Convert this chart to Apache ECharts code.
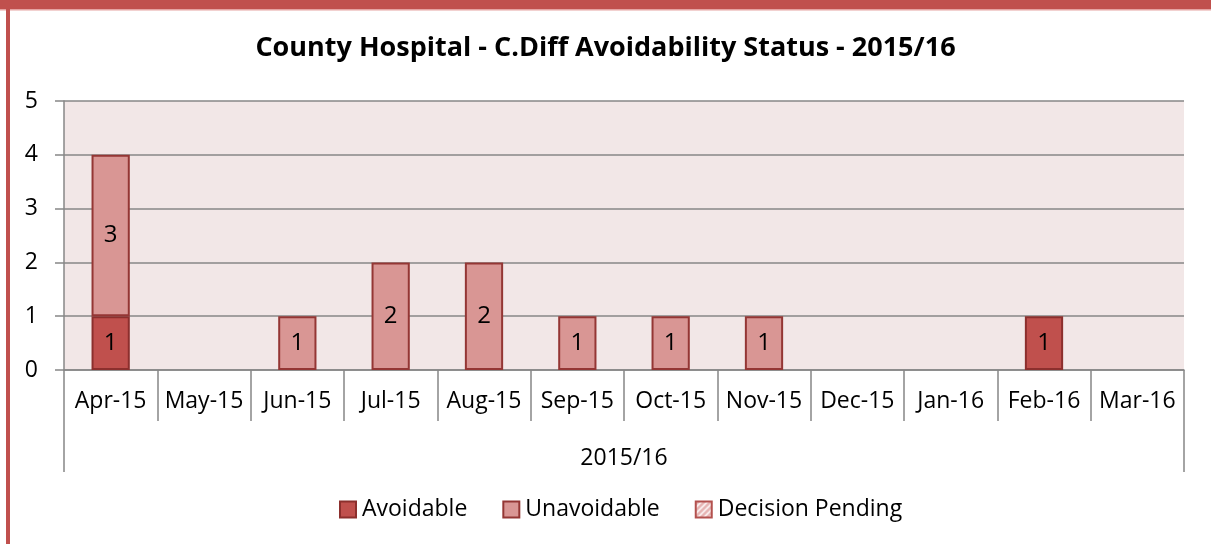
<!DOCTYPE html>
<html>
<head>
<meta charset="UTF-8">
<title>County Hospital - C.Diff Avoidability Status - 2015/16</title>
<script src="https://cdn.jsdelivr.net/npm/echarts@6/dist/echarts.min.js"></script>
<style>
  html, body { margin: 0; padding: 0; background: #fff; }
  #main { width: 1211px; height: 544px; }
</style>
</head>
<body>
<div id="main"></div>
<script type="text/javascript">
// chart data
var months = ['Apr-15', 'May-15', 'Jun-15', 'Jul-15', 'Aug-15', 'Sep-15', 'Oct-15', 'Nov-15', 'Dec-15', 'Jan-16', 'Feb-16', 'Mar-16'];
var yearGroup = ['2015/16'];
var avoidable = [1, 0, 0, 0, 0, 0, 0, 0, 0, 0, 1, 0];
var unavoidable = [3, 0, 1, 2, 2, 1, 1, 1, 0, 0, 0, 0];
var pending = [0, 0, 0, 0, 0, 0, 0, 0, 0, 0, 0, 0];

var FONT = '"Open Sans", "DejaVu Sans", sans-serif';

// hatched fill for "Decision Pending"
function hatch() {
    var c = document.createElement('canvas');
    c.width = 6; c.height = 6;
    var g = c.getContext('2d');
    g.fillStyle = '#E6B3B2';
    g.fillRect(0, 0, 6, 6);
    g.strokeStyle = '#ffffff';
    g.lineWidth = 1.5;
    g.beginPath();
    g.moveTo(0, 6); g.lineTo(6, 0);
    g.moveTo(-3, 3); g.lineTo(3, -3);
    g.moveTo(3, 9); g.lineTo(9, 3);
    g.stroke();
    return c;
}

// zero values are not drawn as bars
function nz(arr) { return arr.map(function (v) { return v === 0 ? null : v; }); }

var labelStyle = { show: true, position: 'inside', color: '#000', fontFamily: FONT, fontSize: 24 };

var myChart = echarts.init(document.getElementById('main'));
var option = {
    animation: false,
    backgroundColor: '#fff',
    title: {
        text: 'County Hospital - C.Diff Avoidability Status - 2015/16',
        left: 'center',
        top: 30,
        textStyle: { fontFamily: FONT, fontSize: 27, fontWeight: 'bold', color: '#000' }
    },
    legend: {
        bottom: 18,
        left: 334,
        icon: 'rect',
        itemWidth: 16,
        itemHeight: 16,
        itemGap: 35,
        textStyle: { fontFamily: FONT, fontSize: 23, color: '#000', padding: [0, 0, 0, 1] },
        data: ['Avoidable', 'Unavoidable', 'Decision Pending']
    },
    grid: {
        left: 64, right: 27, top: 101, bottom: 174,
        show: true, backgroundColor: '#F2E7E7', borderWidth: 0
    },
    xAxis: [
        {
            type: 'category',
            data: months,
            axisLine: { lineStyle: { color: '#878787', width: 1.5 } },
            axisTick: { show: true, interval: 0, alignWithLabel: false, length: 51, lineStyle: { color: '#878787', width: 1.5 } },
            axisLabel: { interval: 0, margin: 20, color: '#000', fontFamily: FONT, fontSize: 23 }
        },
        {
            type: 'category',
            data: yearGroup,
            position: 'bottom',
            axisLine: { show: false },
            axisTick: { show: true, length: 102, lineStyle: { color: '#878787', width: 1.5 } },
            axisLabel: { margin: 77, color: '#000', fontFamily: FONT, fontSize: 23 }
        }
    ],
    yAxis: {
        type: 'value',
        min: 0, max: 5, interval: 1,
        axisLine: { show: true, lineStyle: { color: '#878787', width: 1.5 } },
        axisTick: { show: true, length: 9, lineStyle: { color: '#878787', width: 1.5 } },
        axisLabel: { margin: 26, color: '#000', fontFamily: FONT, fontSize: 23 },
        splitLine: { lineStyle: { color: '#878787', width: 1.5 } }
    },
    series: [
        {
            name: 'Avoidable', type: 'bar', stack: 'a', data: nz(avoidable),
            barWidth: '41%',
            itemStyle: { color: '#C0504D', borderColor: '#8C2F2D', borderWidth: 2 },
            label: labelStyle
        },
        {
            name: 'Unavoidable', type: 'bar', stack: 'a', data: nz(unavoidable),
            itemStyle: { color: '#D99694', borderColor: '#943634', borderWidth: 2 },
            label: labelStyle
        },
        {
            name: 'Decision Pending', type: 'bar', stack: 'a', data: nz(pending),
            itemStyle: { color: { image: hatch(), repeat: 'repeat' }, borderColor: '#B3514E', borderWidth: 2 },
            label: labelStyle
        }
    ],
    graphic: [
        { type: 'rect', shape: { x: 0, y: 0, width: 1211, height: 9 }, style: { fill: '#C0504D' }, silent: true },
        { type: 'rect', shape: { x: 0, y: 9, width: 1211, height: 1.5 }, style: { fill: '#E5A3A1' }, silent: true },
        { type: 'rect', shape: { x: 6, y: 0, width: 4, height: 544 }, style: { fill: '#C0504D' }, silent: true }
    ]
};
myChart.setOption(option);
</script>
</body>
</html>
